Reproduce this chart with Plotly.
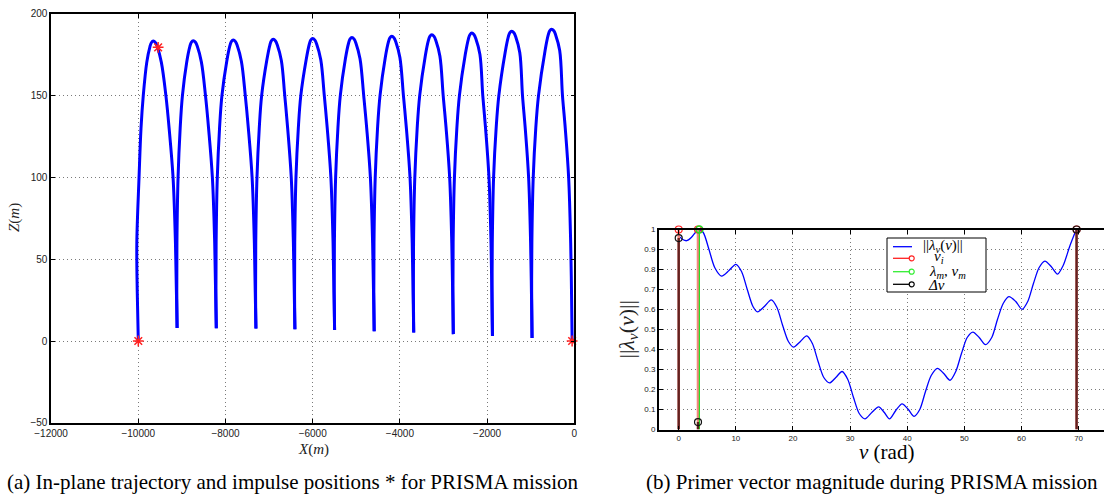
import plotly.graph_objects as go

# ---------------- (a) in-plane trajectory ----------------
# one row per arc: left cusp, rising side, peak, falling side (next row starts at the next cusp)
traj_x = [
    -10000, -10024, -10034, -9983, -9938, -9886, -9806, -9734, -9701, -9656, -9606, -9564, -9471, -9367, -9293, -9203, -9148, -9126,
    -9110, -9117, -9114, -9088, -9040, -8988, -8889, -8817, -8784, -8739, -8689, -8647, -8554, -8459, -8388, -8301, -8248, -8227,
    -8211, -8219, -8215, -8188, -8137, -8082, -7971, -7899, -7866, -7821, -7771, -7729, -7636, -7546, -7476, -7390, -7338, -7318,
    -7302, -7310, -7306, -7278, -7226, -7171, -7054, -6982, -6949, -6904, -6854, -6812, -6719, -6641, -6574, -6492, -6443, -6423,
    -6408, -6416, -6412, -6384, -6330, -6273, -6150, -6078, -6045, -6000, -5950, -5908, -5815, -5734, -5666, -5583, -5533, -5513,
    -5498, -5506, -5502, -5474, -5422, -5367, -5250, -5178, -5145, -5100, -5050, -5008, -4915, -4830, -4761, -4677, -4626, -4605,
    -4590, -4598, -4594, -4566, -4513, -4456, -4335, -4263, -4230, -4185, -4135, -4093, -4000, -3919, -3851, -3768, -3718, -3698,
    -3683, -3691, -3687, -3658, -3604, -3546, -3418, -3346, -3313, -3268, -3218, -3176, -3083, -3007, -2940, -2859, -2810, -2790,
    -2775, -2783, -2779, -2749, -2694, -2635, -2500, -2428, -2395, -2350, -2300, -2258, -2165, -2099, -2035, -1957, -1910, -1891,
    -1877, -1886, -1881, -1851, -1793, -1731, -1586, -1514, -1481, -1436, -1386, -1344, -1251, -1188, -1125, -1048, -1002, -983,
    -969, -978, -973, -942, -884, -821, -670, -598, -565, -520, -470, -428, -335, -271, -207, -130, -83, -64,
    -50,
]
traj_z = [
    0.0, 30, 60, 100, 130, 150, 170.3, 179.8, 182.3, 183.3, 182.3, 179.8, 170.3, 150, 130, 100, 60, 30,
    8.0, 30, 60, 100, 130, 150, 170.6, 180.1, 182.6, 183.6, 182.6, 180.1, 170.6, 150, 130, 100, 60, 30,
    7.8, 30, 60, 100, 130, 150, 171.0, 180.5, 183.0, 184.0, 183.0, 180.5, 171.0, 150, 130, 100, 60, 30,
    7.6, 30, 60, 100, 130, 150, 171.4, 180.9, 183.4, 184.4, 183.4, 180.9, 171.4, 150, 130, 100, 60, 30,
    7.2, 30, 60, 100, 130, 150, 171.9, 181.4, 183.9, 184.9, 183.9, 181.4, 171.9, 150, 130, 100, 60, 30,
    6.7, 30, 60, 100, 130, 150, 172.5, 182.0, 184.5, 185.5, 184.5, 182.0, 172.5, 150, 130, 100, 60, 30,
    6.0, 30, 60, 100, 130, 150, 173.3, 182.8, 185.3, 186.3, 185.3, 182.8, 173.3, 150, 130, 100, 60, 30,
    5.2, 30, 60, 100, 130, 150, 174.2, 183.7, 186.2, 187.2, 186.2, 183.7, 174.2, 150, 130, 100, 60, 30,
    4.2, 30, 60, 100, 130, 150, 175.2, 184.7, 187.2, 188.2, 187.2, 184.7, 175.2, 150, 130, 100, 60, 30,
    3.0, 30, 60, 100, 130, 150, 176.4, 185.9, 188.4, 189.4, 188.4, 185.9, 176.4, 150, 130, 100, 60, 30,
    1.8, 30, 60, 100, 130, 150, 177.6, 187.1, 189.6, 190.6, 189.6, 187.1, 177.6, 150, 130, 100, 60, 30,
    0.0,
]
points_per_arc = 18
impulse_x = [-10000, -9545, -50]
impulse_z = [0, 179.5, 0]
x_ticks_a = [-12000, -10000, -8000, -6000, -4000, -2000, 0]
z_ticks_a = [-50, 0, 50, 100, 150, 200]

# ---------------- (b) primer vector magnitude ----------------
nu = [0, 0.7, 1.4, 2.2, 3.0, 3.6, 4.3, 5.3, 6.3, 7.5, 8.8, 10.0, 11.0, 12.0, 13.0, 13.8,
      15.0, 16.2, 17.2, 18.2, 19.2, 20.1, 21.3, 22.4, 23.4, 24.4, 25.4, 26.4, 27.5, 28.6,
      29.6, 30.6, 31.6, 32.6, 33.8, 35.0, 36.0, 36.9, 38.0, 39.1, 40.2, 41.2, 42.2, 43.2,
      44.2, 45.3, 46.4, 47.5, 48.5, 49.5, 50.5, 51.5, 52.6, 53.7, 54.8, 55.8, 56.8, 57.8,
      59.0, 60.1, 61.1, 62.1, 63.1, 64.1, 65.2, 66.3, 67.3, 68.5, 69.6]
lam = [0.968, 0.950, 0.944, 0.960, 0.988, 1.0, 0.985, 0.90, 0.81, 0.767, 0.795, 0.826, 0.79, 0.70,
       0.615, 0.588, 0.615, 0.648, 0.61, 0.52, 0.44, 0.412, 0.44, 0.468, 0.43, 0.34, 0.26, 0.233,
       0.26, 0.29, 0.25, 0.16, 0.08, 0.053, 0.085, 0.113, 0.085, 0.053, 0.095, 0.128, 0.10, 0.066,
       0.10, 0.19, 0.27, 0.306, 0.28, 0.246, 0.29, 0.38, 0.46, 0.487, 0.46, 0.424, 0.46, 0.55,
       0.63, 0.664, 0.64, 0.601, 0.64, 0.73, 0.81, 0.842, 0.815, 0.777, 0.82, 0.92, 1.0]
nu_impulse = [0.0, 3.38, 69.65]
lam_impulse = [1.0, 1.0, 1.0]
dv_mag = [0.957, 0.037, 1.0]
nu_max = [3.62]
lam_max = [1.0]
x_ticks_b = [0, 10, 20, 30, 40, 50, 60, 70]
y_ticks_b = [0, 0.1, 0.2, 0.3, 0.4, 0.5, 0.6, 0.7, 0.8, 0.9, 1]

W, H = 1104, 495
def px(x):
    return x / W
def py(y):
    return 1 - y / H

fig = go.Figure()

# trajectory arcs (each arc drawn cusp to cusp so cusps stay sharp)
n_arcs = (len(traj_x) - 1) // points_per_arc
for k in range(n_arcs):
    s = k * points_per_arc
    e = s + points_per_arc + 1
    fig.add_trace(go.Scatter(x=traj_x[s:e], y=traj_z[s:e], mode="lines",
                             line=dict(color="#0000ff", width=3, shape="spline", smoothing=1.0),
                             xaxis="x", yaxis="y", hoverinfo="skip"))
fig.add_trace(go.Scatter(x=impulse_x, y=impulse_z, mode="markers",
                         marker=dict(symbol="asterisk-open", size=9, color="#ff2020",
                                     line=dict(color="#ff2020", width=1.5)),
                         xaxis="x", yaxis="y", cliponaxis=False))

# primer vector curve
fig.add_trace(go.Scatter(x=nu, y=lam, mode="lines",
                         line=dict(color="#0000ff", width=1.3, shape="spline", smoothing=0.8),
                         xaxis="x2", yaxis="y2"))

def stems(xs, ys):
    sx, sy = [], []
    for a, b in zip(xs, ys):
        sx += [a, a, None]
        sy += [0, b, None]
    return sx, sy

rx, ry = stems(nu_impulse, lam_impulse)
fig.add_trace(go.Scatter(x=rx, y=ry, mode="lines", line=dict(color="#f4847e", width=2.6),
                         xaxis="x2", yaxis="y2", cliponaxis=False))
fig.add_trace(go.Scatter(x=nu_impulse, y=lam_impulse, mode="markers",
                         marker=dict(symbol="circle-open", size=7, color="#ff2020", line=dict(width=1.2)),
                         xaxis="x2", yaxis="y2", cliponaxis=False))
gx, gy = stems(nu_max, lam_max)
fig.add_trace(go.Scatter(x=gx, y=gy, mode="lines", line=dict(color="#22dd22", width=1.2),
                         xaxis="x2", yaxis="y2", cliponaxis=False))
fig.add_trace(go.Scatter(x=nu_max, y=lam_max, mode="markers",
                         marker=dict(symbol="circle-open", size=7, color="#22dd22", line=dict(width=1.5)),
                         xaxis="x2", yaxis="y2", cliponaxis=False))
kx, ky = stems(nu_impulse, dv_mag)
fig.add_trace(go.Scatter(x=kx, y=ky, mode="lines", line=dict(color="rgba(50,0,0,0.75)", width=2.4),
                         xaxis="x2", yaxis="y2", cliponaxis=False))
fig.add_trace(go.Scatter(x=nu_impulse, y=dv_mag, mode="markers",
                         marker=dict(symbol="circle-open", size=7, color="#111111", line=dict(width=1.2)),
                         xaxis="x2", yaxis="y2", cliponaxis=False))

tickfont = dict(family="Liberation Sans, Arial, sans-serif", size=10, color="#222222")
tickfont_b = dict(family="Liberation Sans, Arial, sans-serif", size=8, color="#222222")
common = dict(showline=True, linecolor="black", ticks="inside", ticklen=4, tickcolor="black",
              showgrid=True, gridcolor="#7a7a7a", griddash="1px,3px", gridwidth=1, zeroline=False,
              automargin=False)

fig.update_layout(
    width=W, height=H, margin=dict(l=0, r=0, t=0, b=0, pad=0, autoexpand=False),
    paper_bgcolor="white", plot_bgcolor="white", showlegend=False,
    xaxis=dict(domain=[px(51.1), px(574.3)], range=[-12000, 0], tickvals=x_ticks_a,
               tickformat="d", linewidth=1.5, mirror="allticks", tickfont=tickfont, anchor="y", **common),
    yaxis=dict(domain=[py(422.8), py(13.8)], range=[-50, 200], tickvals=z_ticks_a,
               linewidth=1.5, mirror="allticks", tickfont=tickfont, anchor="x", **common),
    xaxis2=dict(domain=[px(659), 1.0], range=[-3.45, 74.45], tickvals=x_ticks_b,
                linewidth=2, mirror="ticks", tickfont=tickfont_b, anchor="y2", **common),
    yaxis2=dict(domain=[py(429.5), py(229.5)], range=[0, 1], tickvals=y_ticks_b,
                linewidth=2, mirror=False, tickfont=tickfont_b, anchor="x2", **common),
)

serif = "Liberation Serif, Times New Roman, serif"
ann = [
    dict(x=px(293), y=py(482), text="(a) In-plane trajectory and impulse positions * for PRISMA mission",
         font=dict(family=serif, size=21, color="black")),
    dict(x=px(871.5), y=py(482), text="(b) Primer vector magnitude during PRISMA mission",
         font=dict(family=serif, size=21, color="black")),
    dict(x=px(313), y=py(449), text="<i>X</i>(<i>m</i>)", font=dict(family=serif, size=15, color="#222")),
    dict(x=px(15), y=py(218), text="<i>Z</i>(<i>m</i>)", textangle=-90,
         font=dict(family=serif, size=15, color="#222")),
    dict(x=px(627), y=py(329.5), text="||<i>λ</i><sub><i>ν</i></sub>(<i>ν</i>)||", textangle=-90,
         font=dict(family=serif, size=22, color="#222")),
    dict(x=px(886), y=py(452), text="<i>ν</i> (rad)", font=dict(family=serif, size=21, color="black")),
    dict(x=px(943), y=py(246), text="||<i>λ</i><sub><i>ν</i></sub>(<i>ν</i>)||", font=dict(family=serif, size=15, color="black")),
    dict(x=px(938.5), y=py(257), text="<i>ν</i><sub><i>i</i></sub>", font=dict(family=serif, size=15, color="black")),
    dict(x=px(947), y=py(272), text="<i>λ</i><sub><i>m</i></sub>, <i>ν</i><sub><i>m</i></sub>",
         font=dict(family=serif, size=15, color="black")),
    dict(x=px(936.5), y=py(285), text="<i>Δν</i>", font=dict(family=serif, size=15, color="black")),
]
for a in ann:
    a.update(xref="paper", yref="paper", showarrow=False, xanchor="center", yanchor="middle")
fig.update_layout(annotations=ann)

# manual legend box (MATLAB-style, compact)
shapes = [dict(type="rect", xref="paper", yref="paper", x0=px(887), x1=px(986), y0=py(292), y1=py(238),
               line=dict(color="black", width=1), fillcolor="white", layer="above")]
leg_items = [(246.7, "#0000ff", False), (258.3, "#ff2020", True), (271.7, "#33ee33", True), (284.3, "#000000", True)]
for yy, col, circ in leg_items:
    shapes.append(dict(type="line", xref="paper", yref="paper", x0=px(893), x1=px(912), y0=py(yy), y1=py(yy),
                       line=dict(color=col, width=1.3), layer="above"))
    if circ:
        shapes.append(dict(type="circle", xref="paper", yref="paper", x0=px(909.2), x1=px(914.2),
                           y0=py(yy + 2.5), y1=py(yy - 2.5), line=dict(color=col, width=1.2),
                           fillcolor="white", layer="above"))
fig.update_layout(shapes=shapes)

fig.write_html("out.html", config={"displayModeBar": False},
               post_script="document.body.style.margin='0px';document.body.style.overflow='hidden';")
